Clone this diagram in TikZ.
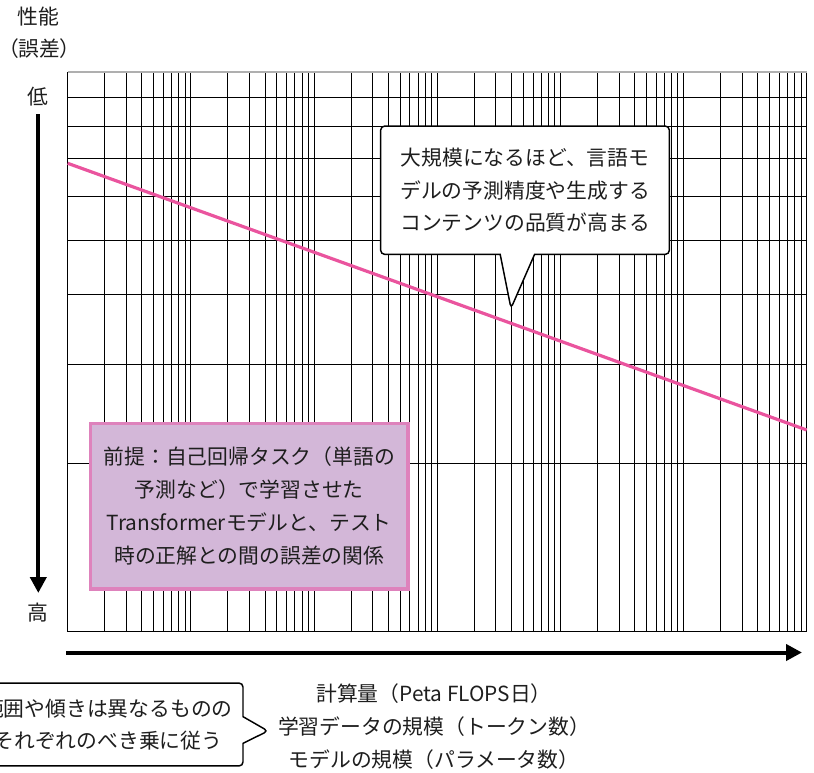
\documentclass[tikz,border=0pt]{standalone}
\usepackage{fontspec}
\setmainfont{Noto Sans CJK JP}
\usepackage{tikz}
\usetikzlibrary{arrows.meta,shapes.callouts}
\definecolor{errpink}{RGB}{234,84,158}
\definecolor{notefill}{RGB}{211,183,216}
\definecolor{noteedge}{RGB}{222,130,188}
\definecolor{gridgray}{RGB}{175,175,175}
\definecolor{ink}{RGB}{30,30,30}

\tikzset{
  gridline/.style={line width=0.75pt, black},
  jtext/.style={font=\fontsize{15.6}{24.4}\selectfont, text=ink, align=center, inner sep=0pt},
  bubble/.style={jtext, rectangle callout, draw=black, fill=white, line width=1.1pt, rounded corners=3pt},
  axisarrow/.style={line width=3pt, -{Triangle[width=12pt,length=12pt]}}
}

\begin{document}
\begin{tikzpicture}[x=0.75pt,y=-0.75pt]
\useasboundingbox (0,0) rectangle (814,772);

% log-log grid
\foreach \d in {0,...,5}
  \foreach \k in {1,...,9}{
    \pgfmathsetmacro\gx{67.7+123.17*(\d+log10(\k))}
    \draw[gridline] (\gx,72) -- (\gx,631.7);
  }
\draw[gridline] (806.7,72) -- (806.7,631.7);
\foreach \k in {1,...,9}{
  \pgfmathsetmacro\gy{631.7-559.7*log10(\k)}
  \draw[gridline] (67.7,\gy) -- (806.7,\gy);
}
\draw[gridgray, line width=1pt] (67.7,72) -- (806.7,72);

% error curve
\coordinate (errstart) at (67.7,163.3);
\coordinate (errend) at (806.7,430);
\draw[errpink, line width=2.4pt] (errstart) -- (errend);

\node[bubble, minimum width=216.5pt, minimum height=96.2pt,
      callout absolute pointer={(511,308.3)}, callout pointer width=25.8pt]
  (scalenote) at (525,190.2)
  {大規模になるほど、言語モ\\デルの予測精度や生成する\\コンテンツの品質が高まる};

\node[jtext, draw=noteedge, fill=notefill, line width=2.3pt,
      minimum width=238pt, minimum height=124pt, font=\fontsize{15.6}{24.8}\selectfont]
  (premise) at (249.3,506.3)
  {前提：自己回帰タスク（単語の\\予測など）で学習させた\\Transformerモデルと、テスト\\時の正解との間の誤差の関係};

% axes
\coordinate (ytop) at (38.3,114);
\coordinate (ybot) at (38.3,593);
\draw[axisarrow] (ytop) -- (ybot);
\coordinate (xleft) at (66,652.5);
\coordinate (xright) at (802,652.5);
\draw[axisarrow] (xleft) -- (xright);

\node[jtext] (perf) at (38,17) {性能};
\node[jtext] (err) at (39,49) {\addfontfeatures{RawFeature=+palt}（誤差）};
\node[jtext] (low) at (38,97) {低};
\node[jtext] (high) at (38,613) {高};

\node[jtext, font=\fontsize{15.6}{24.8}\selectfont] (xlabel) at (434,727)
  {計算量（Peta FLOPS日）\\学習データの規模（トークン数）\\モデルの規模（パラメータ数）};

\node[bubble, minimum width=202.5pt, minimum height=62.2pt,
      callout absolute pointer={(268,731)}, callout pointer width=20pt]
  (powernote) at (108,724.5)
  {範囲や傾きは異なるものの\\それぞれのべき乗に従う};
\end{tikzpicture}
\end{document}
